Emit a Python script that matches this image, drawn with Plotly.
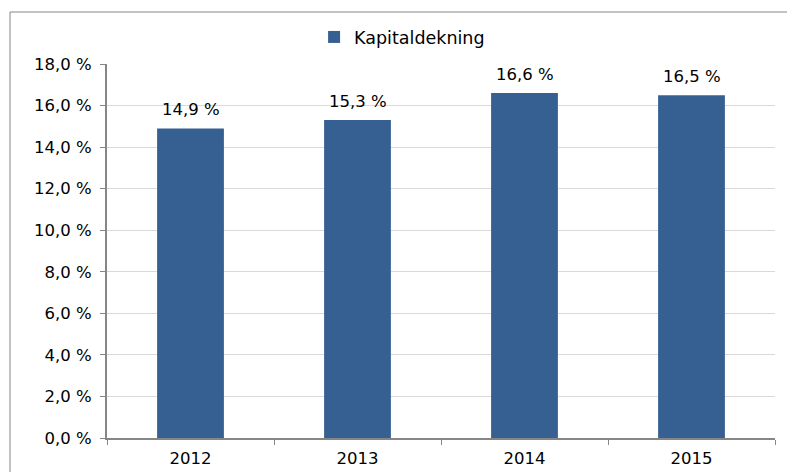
import plotly.graph_objects as go

years = ["2012", "2013", "2014", "2015"]
kapitaldekning = [14.9, 15.3, 16.6, 16.5]
value_labels = ["14,9 %", "15,3 %", "16,6 %", "16,5 %"]
y_tick_vals = [0, 2, 4, 6, 8, 10, 12, 14, 16, 18]
y_tick_text = ["0,0 %", "2,0 %", "4,0 %", "6,0 %", "8,0 %", "10,0 %",
               "12,0 %", "14,0 %", "16,0 %", "18,0 %"]

FONT = "DejaVu Sans, Verdana, sans-serif"
BAR = "#376092"
AXIS = "#868686"
FS = 16.5

fig = go.Figure()
fig.add_trace(go.Bar(
    x=years, y=kapitaldekning, name="Kapitaldekning",
    marker=dict(color=BAR, line=dict(width=0)), width=0.4,
    showlegend=True,
))

for i, (y, t) in enumerate(zip(kapitaldekning, value_labels)):
    fig.add_annotation(x=i, y=y, text=t, showarrow=False, yanchor="bottom",
                       yshift=7, font=dict(family=FONT, size=FS, color="#000000"))

fig.add_shape(type="rect", xref="paper", yref="paper",
              x0=-0.1452, y0=-0.3, x1=1.2, y1=1.139,
              line=dict(color=AXIS, width=1), fillcolor="rgba(0,0,0,0)", layer="below")

fig.update_layout(
    width=787, height=472,
    margin=dict(l=107, r=12, t=64, b=34, autoexpand=False),
    paper_bgcolor="white", plot_bgcolor="white",
    font=dict(family=FONT, size=FS, color="#000000"),
    showlegend=True,
    legend=dict(orientation="h", x=0.31, xanchor="left", y=1.072, yanchor="middle",
                font=dict(family=FONT, size=17.5), itemwidth=30,
                bgcolor="rgba(0,0,0,0)"),
    xaxis=dict(type="category", tickson="boundaries", ticks="outside", ticklen=5,
               tickcolor=AXIS, showline=True, linecolor=AXIS, linewidth=2,
               showgrid=False, ticklabelstandoff=4, tickfont=dict(family=FONT, size=FS)),
    yaxis=dict(range=[0, 18], tickvals=y_tick_vals, ticktext=y_tick_text,
               ticks="outside", ticklen=5, tickcolor=AXIS, showline=True,
               linecolor=AXIS, linewidth=2, showgrid=True, gridcolor="#D9D9D9",
               gridwidth=1, zeroline=False, ticklabelstandoff=5,
               tickfont=dict(family=FONT, size=FS)),
)

fig.write_html("out.html", config={"displayModeBar": False},
               post_script="document.body.style.margin='0';")
